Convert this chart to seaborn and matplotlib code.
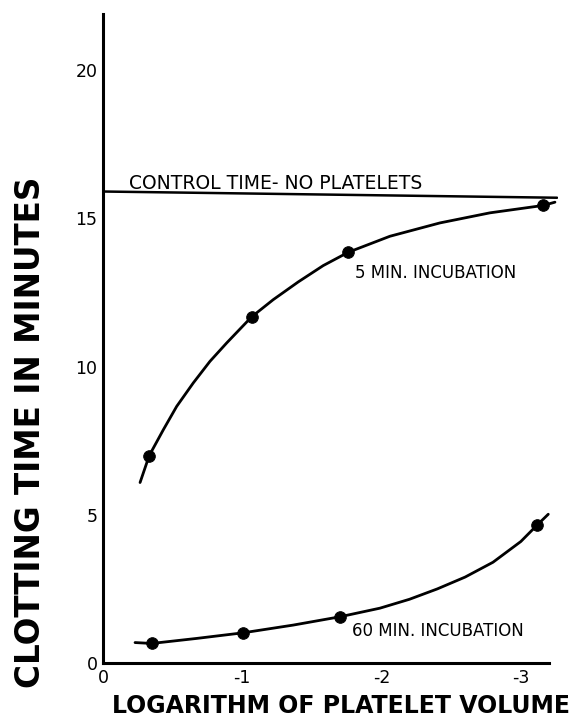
import numpy as np
import pandas as pd
import matplotlib
matplotlib.use("Agg")
import matplotlib.pyplot as plt
import seaborn as sns

# ------------------------------
# Data
# ------------------------------
# measured points (log platelet volume, clotting time in minutes)
x_5min = [-0.332, -1.067, -1.761, -3.161]
y_5min = [7.0, 11.68, 13.86, 15.44]

x_60min = [-0.35, -1.007, -1.701, -3.118]
y_60min = [0.66, 1.02, 1.56, 4.66]

# hand-drawn smooth curves
curve_5min_x = [-0.266, -0.332, -0.433, -0.529, -0.648, -0.768, -0.888, -1.067, -1.222,
                -1.402, -1.581, -1.761, -2.06, -2.419, -2.778, -3.161, -3.245]
curve_5min_y = [6.09, 7.0, 7.87, 8.66, 9.45, 10.18, 10.8, 11.68, 12.26,
                12.86, 13.41, 13.86, 14.4, 14.85, 15.19, 15.44, 15.55]

curve_60min_x = [-0.23, -0.35, -0.673, -1.007, -1.366, -1.701, -1.988, -2.2, -2.4,
                 -2.6, -2.8, -3.0, -3.118, -3.197]
curve_60min_y = [0.69, 0.66, 0.83, 1.02, 1.28, 1.56, 1.85, 2.15, 2.5,
                 2.9, 3.4, 4.1, 4.66, 5.02]

control_x = [0.0, -3.26]
control_y = [15.91, 15.70]

x_ticks = [0, -1, -2, -3]
x_tick_labels = ["0", "-1", "-2", "-3"]
y_ticks = [0, 5, 10, 15, 20]
y_tick_labels = ["0", "5", "10", "15", "20"]

# ------------------------------
# Plot
# ------------------------------
sns.set_style("white")
plt.rcParams["font.family"] = ["DejaVu Sans"]
plt.rcParams["text.color"] = "black"
plt.rcParams["axes.labelcolor"] = "black"

fig = plt.figure(figsize=(5.71, 7.25), dpi=100)
ax = fig.add_axes([0.1804, 0.0855, 0.7976, 0.8952])

curves = pd.DataFrame({"x": curve_5min_x + curve_60min_x,
                       "y": curve_5min_y + curve_60min_y,
                       "series": ["5"] * len(curve_5min_x) + ["60"] * len(curve_60min_x)})
sns.lineplot(data=curves, x="x", y="y", units="series", estimator=None, sort=False,
             color="black", linewidth=2.0, ax=ax)

sns.lineplot(x=control_x, y=control_y, color="black", linewidth=1.8, ax=ax)

pts = pd.DataFrame({"x": x_5min + x_60min, "y": y_5min + y_60min})
sns.scatterplot(data=pts, x="x", y="y", color="black", s=70, edgecolor="black", ax=ax, zorder=3)

ax.set_xlim(0, -3.27)
ax.set_ylim(0, 21.9)
ax.spines["top"].set_visible(False)
ax.spines["right"].set_visible(False)
for s in ["left", "bottom"]:
    ax.spines[s].set_linewidth(2.2)
    ax.spines[s].set_color("black")
ax.spines["bottom"].set_bounds(0, -3.2)

ax.set_xticks(x_ticks)
ax.set_xticklabels(x_tick_labels)
ax.set_yticks(y_ticks)
ax.set_yticklabels(y_tick_labels)
ax.tick_params(axis="both", direction="in", length=6, width=2, labelsize=12.5,
               colors="black", labelcolor="black")
ax.tick_params(axis="x", pad=4)
ax.tick_params(axis="y", pad=4)

ax.set_xlabel("")
ax.set_ylabel("")
ax.text(0.523, -0.066, "LOGARITHM OF PLATELET VOLUME", transform=ax.transAxes,
        fontsize=17, fontweight="bold", ha="center", va="center")
ax.text(-0.16, 0.355, "CLOTTING TIME IN MINUTES", transform=ax.transAxes, rotation=90,
        fontsize=23.5, fontweight="bold", ha="center", va="center")

ax.text(-0.19, 15.98, "CONTROL TIME- NO PLATELETS", fontsize=13.5, ha="left", va="baseline")
ax.text(-1.81, 13.15, "5 MIN. INCUBATION", fontsize=12, ha="left", va="center")
ax.text(-1.785, 1.09, "60 MIN. INCUBATION", fontsize=12, ha="left", va="center")

fig.savefig("out.png", dpi=100)
